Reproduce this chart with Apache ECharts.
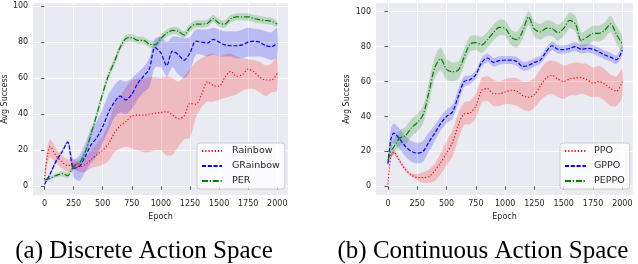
<!DOCTYPE html>
<html>
<head>
<meta charset="utf-8">
<script src="https://cdn.jsdelivr.net/npm/echarts@6/dist/echarts.min.js"></script>
<style>
html,body{margin:0;padding:0;background:#ffffff;}
#c{width:638px;height:264px;}
</style>
</head>
<body>
<div id="c"></div>
<script>
// ---------- data ----------
const epochs = [0,25,50,100,150,200,250,300,350,400,450,500,550,600,650,700,750,800,850,900,950,1000,1050,1100,1150,1200,1250,1300,1350,1400,1450,1500,1550,1600,1650,1700,1750,1800,1850,1900,1950,2000];
const xTicks = [0,250,500,750,1000,1250,1500,1750,2000];
const yTicks = [0,20,40,60,80,100];

// (a) Discrete action space
const rainbowMean = [4,17,22,17,13.5,11.5,12.5,11,12,15,17.5,20,23.5,29.5,33.5,36,39,39.5,39.5,40,40.5,41,41.4,39.5,37.5,39,46,45.5,51,58,56,55.5,60.5,63.8,61,62,65,63.5,60.5,59,59,62.7];
const rainbowLo   = [2,12,16,13,10,8,9,8,8,10,11,12,14,19,21,22,21,20,19,19,20,20,17,17.5,22,26,27,38,44,47,47,48,49,50,51,53,54,54,52,50,52,53];
const rainbowHi   = [6,22,26,21,17,15,15,13,16,20,24,28,35,45,50,55,59,60,60,60.5,60.5,60,61,60,58,61,65,69,71,73,73.5,72,73,73.5,72,71,70.5,70,69,67,68,72];

const grainbowMean = [1,4,7,14,19,24.5,10,11,16.5,23,27,33,41,46.5,50,48,51,57,61,65,77,74,67,75,73,70,74,80.5,80,79.5,81.5,80,78.5,78,78,78.5,80,80.5,80,78,77.5,79.5];
const grainbowLo   = [0.5,3,6,13,18,23.5,5,3,8,13,17,24,31,38,41,40,43,48,52,55,66,66,61,66,62,60,64,73,73,72,73,72,72,72,71,71,72,72,72,71,70,72];
const grainbowHi   = [1.5,5,8,15,20,25.5,15,17,24,32,36,43,51,56,59,58,60,63,66,71,82,83,80,83,83,82,83,87,87,87,88,87,86,86,86,87,88,87.5,87,86,85.5,88];

const perMean = [3.5,4,4.5,6,7,6,11,13,19,29,40,51.5,61.5,69,77,82,82.5,81,81,79,78.5,82,85,86.5,86,84,88,90,90,90.5,93,90.5,90,93,94,94,94,93,92.5,92,91.5,90];
const perLo   = [2.5,3,3.5,5,5.5,4.5,9.5,11,17,27,38,49.5,59.5,67,75,80,80.5,79,79,77,76.5,80,83,84.5,84,82,86,88,88,88.5,91,88.5,88,91,92,92,92,91,90.5,90,89.5,88.5];
const perHi   = [4.5,5,5.5,7,8.5,7.5,12.5,15,21,31,42,53.5,63.5,71,79,84,84.5,83,83,81,80.5,84,87,88.5,88,86,90,92,92,92.5,95,92.5,92,95,96,96,96,95,94.5,94,93.5,91.5];

// (b) Continuous action space
const ppoMean = [1,17.5,19.5,14.5,9.5,6.5,5,5,5.5,9,13.5,19,25,35,41.5,42,46,55,56,53,53,54,55,54.5,52,51,52.5,57.5,62,63.5,61.5,60,61.5,62,62.2,61,59,60,58.5,56,54.5,60];
const ppoLo   = [0,16,18,13.5,8.5,5.5,3.5,2,2,3,7,12,17,27,35,35.5,39,48,49,46,46,47,47,46,44,43,45,49,52,53,51,50,52,52,53,52,51,51,49,46,46,51];
const ppoHi   = [2,19,21,15.5,10.5,7.5,7,8,9.5,13,19,26,32,42,48,49,53,62,63,61,60,61.5,62,62,60,60,62,67,71,72,71,69,70,71,70.5,70,68,69,67,64,63,67.5];

const gppoMean = [13,27,30.5,27,22.7,20,19,20,25.5,30.5,36,40,42.5,51.5,60,61,64,71,73.5,71,72,72.3,72.3,71.5,68.7,69.3,71,72.3,77,80.5,78.5,78.3,79,80,78.5,79,78.5,77,75.2,74,72.5,78];
const gppoLo   = [10,21,25,21,17,14,13,14,20,26,32,36,38.5,47.5,57,58.5,61.5,68.5,71,68.5,69.5,70,70,69,66.2,66.8,68.5,70,74.5,78,76,76,76.5,77.5,76,76.5,76,74.5,72.7,71.5,70,75];
const gppoHi   = [16,33,36,33,28.5,26,25,26,31,35,40,44,46.5,55.5,63,63.5,66.5,73.5,76,73.5,74.5,74.6,74.6,74,71.2,71.8,73.5,74.6,79.5,83,81,80.6,81.5,82.5,81,81.5,81,79.5,77.7,76.5,75,81];

const peppoMean = [15,20,22.5,27.5,29,33.5,36.5,41,54,68,73,67,65.6,66.5,74,81.5,82.3,81,84,88,91,90.5,85.5,84,89,97,90,88.5,90.5,90.3,88,90.5,95,93,83.5,85.5,87.6,87.6,89.5,93,87,81.5];
const peppoLo   = [12,16,18.5,23,24,28.5,31.5,36,48,62,66.5,61,60,61.5,69.5,77,78,76.5,79.5,83.5,86.5,86,81,79.5,84.5,92.5,85.5,84,86,86,83.5,86,90.5,88.5,79,81,83,83,85,88.5,82,77];
const peppoHi   = [18,24,26.5,32,34,38.5,41.5,46,60,74,79.5,73,71,71.5,78.5,86,86.5,85.5,88.5,92.5,95.5,95,90,88.5,93.5,100.5,94.5,93,95,94.5,92.5,95,99.5,97.5,88,90,92,92,94,97.5,92,86];

const legendA = ['Rainbow','GRainbow','PER'];
const legendB = ['PPO','GPPO','PEPPO'];

// ---------- styles ----------
const RED = '#ff0000', BLUE = '#0000ff', GREEN = '#008000';
const DOT = [1.2,2], DASH = [4,1.8], DASHDOT = [6,1.8,1.2,1.8];
const TXT = '#262626';
const FONT = 'DejaVu Sans';

function pairs(ys){ return epochs.map((e,i)=>[e, ys[i]]); }

// shaded band: one polygon, upper edge forward then lower edge backward, via the axis scales
function band(idx, lo, hi, color){
  const data = epochs.map((e,i)=>[e, lo[i], hi[i]]);
  return {type:'custom', xAxisIndex:idx, yAxisIndex:idx, silent:true, z:1,
    encode:{x:0, y:[1,2]}, data:data, clip:true,
    renderItem:function(params, api){
      if (params.dataIndex !== 0) return null;
      const up = data.map(d=>api.coord([d[0], d[2]]));
      const dn = data.map(d=>api.coord([d[0], d[1]])).reverse();
      return {type:'polygon', shape:{points:up.concat(dn), smooth:0.25},
              style:{fill:color, opacity:0.2, stroke:null}};
    }};
}
function line(idx, name, ys, color, dash){
  return {type:'line', name:name, xAxisIndex:idx, yAxisIndex:idx, data:pairs(ys),
    symbol:'none', smooth:0.3, lineStyle:{color:color, width:1.2, type:dash}, itemStyle:{color:color}, z:3};
}

function xAx(idx, min, max){
  return {type:'value', gridIndex:idx, min:min, max:max,
    name:'Epoch', nameLocation:'middle', nameGap:15,
    nameTextStyle:{fontSize:8, color:TXT, fontFamily:FONT},
    axisLine:{show:false},
    axisTick:{show:true, length:3.5, customValues:xTicks, lineStyle:{color:TXT, width:0.8}},
    axisLabel:{customValues:xTicks, fontSize:8, color:TXT, fontFamily:FONT, margin:5,
               formatter:function(v){ return String(v); }},
    splitLine:{show:true, lineStyle:{color:'#ffffff', width:1}}};
}
function yAx(idx, min, max, gap){
  return {type:'value', gridIndex:idx, min:min, max:max,
    name:'Avg Success', nameLocation:'middle', nameGap:gap, nameRotate:90,
    nameTextStyle:{fontSize:8, color:TXT, fontFamily:FONT},
    axisLine:{show:false},
    axisTick:{show:true, length:3.5, customValues:yTicks, lineStyle:{color:TXT, width:0.8}},
    axisLabel:{customValues:yTicks, fontSize:8, color:TXT, fontFamily:FONT, margin:5,
               formatter:function(v){ return String(v); }},
    splitLine:{show:true, lineStyle:{color:'#ffffff', width:1}}};
}
function leg(data, left, itemW, textPad){
  return {data:data, orient:'vertical', left:left, top:143, padding:[3,5,3,4],
    itemWidth:itemW, itemHeight:10, itemGap:5,
    itemStyle:{opacity:0},
    backgroundColor:'rgba(255,255,255,0.8)', borderColor:'#cccccc', borderWidth:1, borderRadius:3,
    textStyle:{fontSize:9.5, color:TXT, fontFamily:FONT, padding:[0,0,0,textPad]},
    selectedMode:false};
}

const chart = echarts.init(document.getElementById('c'), null, {renderer:'canvas'});
chart.setOption({
  animation:false,
  backgroundColor:'#ffffff',
  grid:[
    {left:33, top:3, width:255, height:192, show:true, backgroundColor:'#EAEAF2', borderWidth:0},
    {left:376, top:3, width:257, height:192, show:true, backgroundColor:'#EAEAF2', borderWidth:0}
  ],
  xAxis:[xAx(0,-97,2092), xAx(1,-102,2091)],
  yAxis:[yAx(0,-4.8,101.7,24), yAx(1,-5.0,105.0,25)],
  legend:[leg(legendA, 197, 20, 5), leg(legendB, 560, 21, 3)],
  graphic:[
    {type:'text', x:144, y:251, style:{text:'(a) Discrete Action Space', font:'25px "Liberation Serif"', fill:'#000', align:'center', verticalAlign:'middle'}},
    {type:'text', x:483, y:251, style:{text:'(b) Continuous Action Space', font:'25px "Liberation Serif"', fill:'#000', align:'center', verticalAlign:'middle'}}
  ],
  series:[
    band(0,rainbowLo,rainbowHi,RED),
    band(0,grainbowLo,grainbowHi,BLUE),
    band(0,perLo,perHi,GREEN),
    line(0,'Rainbow',rainbowMean,RED,DOT), line(0,'GRainbow',grainbowMean,BLUE,DASH), line(0,'PER',perMean,GREEN,DASHDOT),
    band(1,ppoLo,ppoHi,RED),
    band(1,gppoLo,gppoHi,BLUE),
    band(1,peppoLo,peppoHi,GREEN),
    line(1,'PPO',ppoMean,RED,DOT), line(1,'GPPO',gppoMean,BLUE,DASH), line(1,'PEPPO',peppoMean,GREEN,DASHDOT)
  ]
});
</script>
</body>
</html>
